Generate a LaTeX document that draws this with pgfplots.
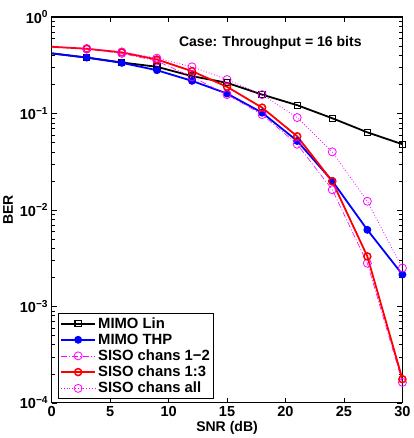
\documentclass[border=0pt]{standalone}
\usepackage{fontspec}
\setmainfont{Liberation Sans}
\usepackage{pgfplots}
\pgfplotsset{compat=1.18}
\definecolor{mag}{RGB}{255,0,255}
\begin{document}
\begin{tikzpicture}
\begin{axis}[
  scale only axis, width=350pt, height=385pt,
  ymode=log, xmin=0, xmax=30, ymin=1e-4, ymax=1,
  xtick={0,5,...,30},
  ytick={1e-4,1e-3,1e-2,1e-1,1},
  yticklabels={\textbf{10}\textsuperscript{\textbf{−4}},\textbf{10}\textsuperscript{\textbf{−3}},\textbf{10}\textsuperscript{\textbf{−2}},\textbf{10}\textsuperscript{\textbf{−1}},\textbf{10}\textsuperscript{\textbf{0}}},
  xticklabel style={font=\fontsize{14.5}{14.5}\selectfont\bfseries},
  yticklabel style={font=\fontsize{14.5}{14.5}\selectfont},
  /pgf/number format/assume math mode=true,
  xlabel={\textbf{SNR (dB)}}, ylabel={\textbf{BER}},
  label style={font=\fontsize{14}{14}\selectfont},
  xlabel style={yshift=2pt},
  ylabel style={yshift=0pt},
  axis line style={line width=1.2pt},
  major tick length=5pt, minor tick length=3pt,
  tick style={line width=0.6pt, black},
  legend style={at={(0.017,0.01)}, anchor=south west, font=\fontsize{14.8}{17.5}\selectfont\bfseries, draw=black, line width=1pt, inner sep=2pt, row sep=0pt},
  legend cell align=left,
  legend image code/.code={\draw[mark indices={2}] plot coordinates {(0cm,0cm)(0.6cm,0cm)(1.2cm,0cm)};},
]
\addplot[black, line width=1.8pt, mark=square, mark size=3pt, mark options={line width=1.3pt, solid}, mark indices={2,...,11}] coordinates {
(0,0.42)(3,0.38)(6,0.338)(9,0.305)(12,0.244)(15,0.208)(18,0.157)(21,0.122)(24,0.0893)(27,0.0638)(30,0.048)};
\addlegendentry{MIMO Lin}
\addplot[blue, line width=1.8pt, mark=*, mark size=3pt, mark options={solid}, mark indices={2,...,11}] coordinates {
(0,0.42)(3,0.38)(6,0.335)(9,0.281)(12,0.218)(15,0.161)(18,0.102)(21,0.0519)(24,0.0200)(27,0.00622)(30,0.00214)};
\addlegendentry{MIMO THP}
\addplot[mag, line width=0.6pt, dash pattern=on 6pt off 2pt on 1pt off 2pt, mark=o, mark size=4pt, mark options={solid, line width=0.8pt}, mark indices={2,...,11}] coordinates {
(0,0.49)(3,0.465)(6,0.42)(9,0.35)(12,0.24)(15,0.157)(18,0.0975)(21,0.048)(24,0.0162)(27,0.0028)(30,0.000163)};
\addlegendentry{SISO chans 1−2}
\addplot[red, line width=1.8pt, mark=o, mark size=3.5pt, mark options={solid, line width=1.5pt}, mark indices={2,...,11}] coordinates {
(0,0.492)(3,0.469)(6,0.43)(9,0.363)(12,0.275)(15,0.189)(18,0.115)(21,0.058)(24,0.0198)(27,0.0033)(30,0.000176)};
\addlegendentry{SISO chans 1:3}
\addplot[mag, line width=0.8pt, dotted, mark=o, mark size=4pt, mark options={solid, line width=0.8pt}, mark indices={2,...,11}] coordinates {
(0,0.49)(3,0.472)(6,0.435)(9,0.375)(12,0.305)(15,0.225)(18,0.157)(21,0.0908)(24,0.040)(27,0.0123)(30,0.0025)};
\addlegendentry{SISO chans all}
\node[font=\fontsize{14}{14}\selectfont\bfseries] at (axis cs:18.7,0.537) {Case: Throughput = 16 bits};
\end{axis}
\path (current axis.north) ++(0,17pt);
\end{tikzpicture}
\end{document}
